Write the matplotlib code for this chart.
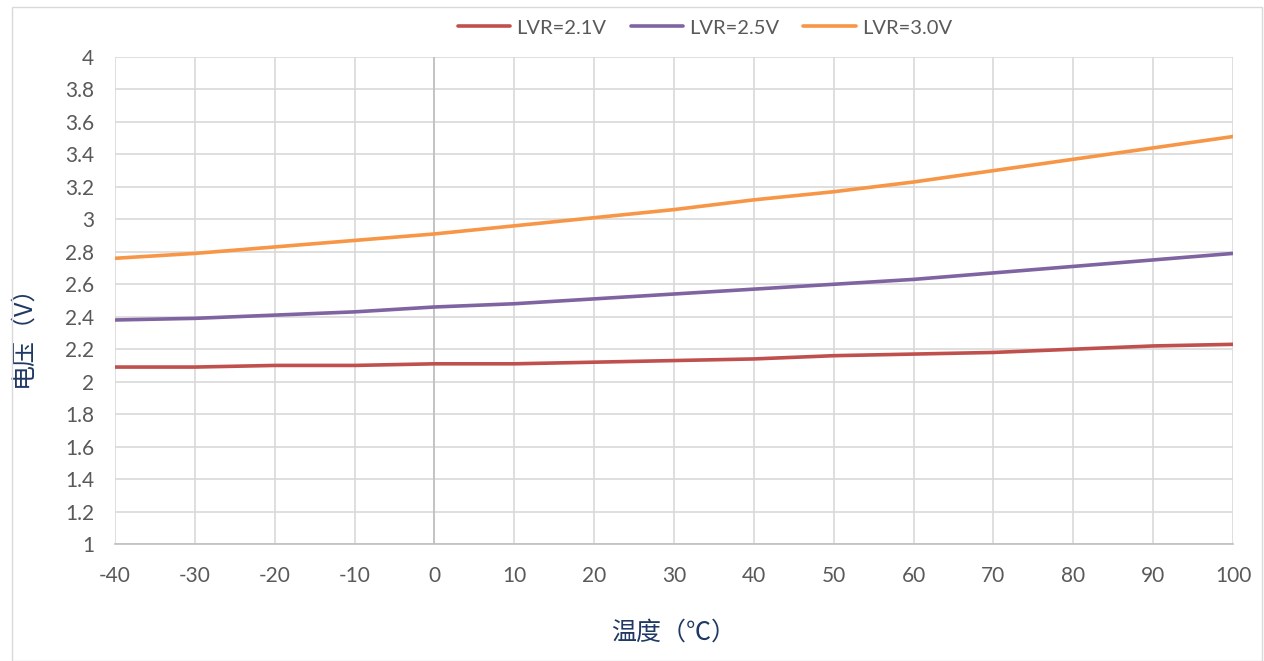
import matplotlib

matplotlib.use("Agg")
import matplotlib.pyplot as plt
from matplotlib.patches import Rectangle

temps = [-40, -30, -20, -10, 0, 10, 20, 30, 40, 50, 60, 70, 80, 90, 100]
lvr_21 = [2.09, 2.09, 2.10, 2.10, 2.11, 2.11, 2.12, 2.13, 2.14, 2.16, 2.17, 2.18, 2.20, 2.22, 2.23]
lvr_25 = [2.38, 2.39, 2.41, 2.43, 2.46, 2.48, 2.51, 2.54, 2.57, 2.60, 2.63, 2.67, 2.71, 2.75, 2.79]
lvr_30 = [2.76, 2.79, 2.83, 2.87, 2.91, 2.96, 3.01, 3.06, 3.12, 3.17, 3.23, 3.30, 3.37, 3.44, 3.51]
labels = ["LVR=2.1V", "LVR=2.5V", "LVR=3.0V"]
colors = ["#C0504D", "#8064A2", "#F79646"]
y_ticks = [1, 1.2, 1.4, 1.6, 1.8, 2, 2.2, 2.4, 2.6, 2.8, 3, 3.2, 3.4, 3.6, 3.8, 4]

plt.rcParams["font.family"] = ["Lato", "DejaVu Sans"]
plt.rcParams["axes.unicode_minus"] = False
cjk = ["Noto Sans CJK SC", "DejaVu Sans"]

fig = plt.figure(figsize=(12.64, 6.61), dpi=100)
ax = fig.add_axes([115 / 1264, 1 - 544 / 661, 1118 / 1264, 487 / 661])

for series, lab, col in zip([lvr_21, lvr_25, lvr_30], labels, colors):
    ax.plot(temps, series, color=col, lw=2.6, label=lab, solid_capstyle="round")

ax.set_xlim(-40, 100)
ax.set_ylim(1, 4)
ax.set_xticks(range(-40, 101, 10))
ax.set_yticks(y_ticks)
ax.set_yticklabels([f"{v:g}" for v in y_ticks])
ax.grid(True, color="#d9d9d9", lw=1.2)
ax.axvline(0, color="#bfbfbf", lw=1.2, zorder=1)
ax.set_axisbelow(True)
for side in ["top", "right", "left"]:
    ax.spines[side].set_visible(False)
ax.spines["bottom"].set_color("#bfbfbf")
ax.spines["bottom"].set_linewidth(1.2)
ax.tick_params(length=0, labelsize=15, labelcolor="#595959")
ax.tick_params(axis="x", pad=16)
ax.tick_params(axis="y", pad=15)

ax.set_xlabel("温度（℃）", family=cjk, fontsize=18, color="#1F3864")
ax.set_ylabel("电压（V）", family=cjk, fontsize=18, color="#1F3864")
ax.xaxis.set_label_coords(674 / 1264, 1 - 633 / 661, transform=fig.transFigure)
ax.yaxis.set_label_coords(22 / 1264, 1 - 330 / 661, transform=fig.transFigure)
ax.xaxis.label.set_va("center")
ax.yaxis.label.set_va("center")

ax.legend(loc="center", bbox_to_anchor=(705 / 1264, 1 - 28 / 661), bbox_transform=fig.transFigure,
          ncol=3, frameon=False, fontsize=14.5, handlelength=2.6, columnspacing=1.2,
          handletextpad=0.3, labelcolor="#595959")

fig.patches.append(Rectangle((12 / 1264, 0), 1 - 14 / 1264, 1 - 7 / 661, transform=fig.transFigure,
                             fill=False, edgecolor="#d9d9d9", lw=1))

fig.savefig("out.png", dpi=100)
